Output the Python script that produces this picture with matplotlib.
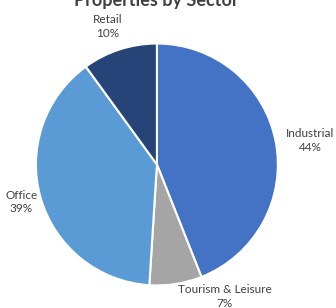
import matplotlib
matplotlib.use("Agg")
import matplotlib.pyplot as plt

sectors = ["Industrial", "Tourism & Leisure", "Office", "Retail"]
shares = [44, 7, 39, 10]
colors = ["#4472C4", "#A5A5A5", "#5B9BD5", "#264478"]

# label centres in pie-radius units (best-fit placement as in the original)
label_pos = [(1.27, 0.20), (0.56, -1.09), (-1.12, -0.31), (-0.41, 1.14)]

labels = [f"{s}\n{v}%" for s, v in zip(sectors, shares)]

fig = plt.figure(figsize=(3.36, 3.08), dpi=100)
ax = fig.add_axes([0.107, 0.073, 0.720, 0.786])

wedges, texts = ax.pie(shares, labels=labels, colors=colors, startangle=90,
                       counterclock=False,
                       wedgeprops=dict(edgecolor="white", linewidth=1.5),
                       textprops=dict(fontsize=8.5, color="#404040", family="Lato"))
for t, p in zip(texts, label_pos):
    t.set_position(p)
    t.set_horizontalalignment("center")
    t.set_verticalalignment("center")
    t.set_linespacing(1.3)
ax.set_xlim(-1, 1)
ax.set_ylim(-1, 1)
ax.set_aspect("equal")

fig.text(0.464, 0.997, "Properties by Sector", ha="center", va="center",
         fontsize=13, fontweight="bold", color="#404040", family="Lato")

fig.savefig("out.png", dpi=100)
